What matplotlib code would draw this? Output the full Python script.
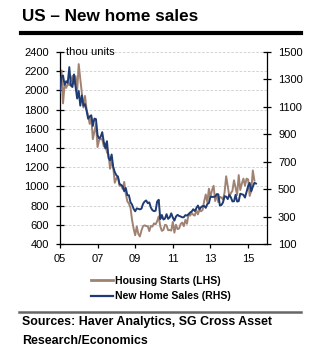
import numpy as np
import matplotlib
matplotlib.use("Agg")
import matplotlib.pyplot as plt
from matplotlib.lines import Line2D

plt.rcParams['font.family'] = ['Liberation Sans', 'DejaVu Sans']

# monthly data from Jan 2005, thousands (SAAR)
housing_starts = [
    2144, 2207, 1864, 2061, 2025, 2068, 2054, 2095, 2151, 2065, 2147, 1994,
    2273, 2119, 1969, 1821, 1942, 1802, 1737, 1650, 1720, 1491, 1570, 1649,
    1409, 1480, 1495, 1490, 1415, 1448, 1354, 1330, 1183, 1264, 1197, 1037,
    1084, 1103, 1005, 1013, 973, 1046, 923, 844, 820, 777, 652, 560,
    490, 582, 505, 478, 540, 585, 594, 586, 585, 534, 588, 581,
    614, 604, 636, 687, 583, 536, 546, 599, 594, 543, 545, 539,
    630, 517, 600, 554, 561, 608, 623, 585, 650, 610, 711, 694,
    723, 704, 695, 753, 708, 757, 740, 754, 847, 915, 833, 976,
    888, 962, 1005, 847, 919, 835, 891, 883, 863, 936, 1105, 1003,
    897, 928, 954, 1063, 985, 909, 1117, 962, 1028, 1080, 1007, 1080,
    1072, 900, 954, 1165, 1060,
]
new_home_sales = [
    1203, 1319, 1328, 1260, 1286, 1274, 1389, 1255, 1244, 1336, 1246, 1160,
    1215, 1108, 1183, 1107, 1119, 1072, 1013, 1029, 1038, 960, 1014, 1010,
    893, 869, 881, 915, 842, 796, 849, 728, 709, 752, 660, 623,
    601, 590, 538, 530, 521, 484, 508, 455, 455, 404, 387, 356,
    338, 359, 356, 352, 357, 392, 409, 417, 397, 403, 365, 346,
    339, 342, 409, 422, 281, 311, 278, 285, 317, 283, 293, 323,
    292, 270, 300, 312, 304, 300, 294, 295, 310, 307, 316, 329,
    336, 353, 340, 361, 380, 352, 368, 376, 377, 363, 391, 398,
    445, 443, 443, 446, 462, 462, 380, 384, 403, 448, 445, 427,
    457, 440, 410, 411, 458, 409, 412, 466, 462, 458, 438, 479,
    521, 545, 484, 517, 546, 540,
]
x_ticks = [2005, 2007, 2009, 2011, 2013, 2015]
x_labels = ["05", "07", "09", "11", "13", "15"]

hs_x = 2005 + np.arange(len(housing_starts)) / 12
nhs_x = 2005 + np.arange(len(new_home_sales)) / 12

brown = "#A08272"
navy = "#1F3B74"

fig = plt.figure(figsize=(3.22, 3.63), dpi=100)
fig.text(0.068, 0.955, "US \u2013 New home sales", fontsize=12.3, fontweight="bold", va="center")
fig.add_artist(Line2D([0.065, 0.935], [0.909, 0.909], color="black", lw=3))

ax = fig.add_axes([0.186, 0.328, 0.643, 0.529])
ax.plot(hs_x, housing_starts, color=brown, lw=1.4)
ax.set_ylim(400, 2400)
ax.set_xlim(2005, 2016)
ax.set_yticks(range(400, 2401, 200))
ax.set_xticks(x_ticks)
ax.set_xticklabels(x_labels)
ax.yaxis.grid(True, color="#cccccc", ls=(0, (3, 2)), lw=0.6)
ax.set_axisbelow(True)
ax.text(2005.3, 2400, "thou units", fontsize=8, va="center")

ax2 = ax.twinx()
ax2.plot(nhs_x, new_home_sales, color=navy, lw=1.4)
ax2.set_ylim(100, 1500)
ax2.set_yticks(range(100, 1501, 200))

for a in (ax, ax2):
    a.spines["top"].set_visible(False)
    for s in a.spines.values():
        s.set_linewidth(0.9)
    a.tick_params(labelsize=8, direction="inout", length=6, width=0.9, pad=5)
ax2.spines["left"].set_visible(False)
ax2.spines["bottom"].set_visible(False)
ax.spines["right"].set_visible(False)
ax.tick_params(axis="x", direction="out", length=3, pad=4)

handles = [Line2D([], [], color=brown, lw=2), Line2D([], [], color=navy, lw=1.6)]
fig.legend(handles, ["Housing Starts (LHS)", "New Home Sales (RHS)"],
           loc="center", bbox_to_anchor=(0.5, 0.205), frameon=False,
           prop={"size": 7.6, "weight": "bold"}, handlelength=2.1,
           handletextpad=0.2, labelspacing=0.55)

fig.add_artist(Line2D([0.059, 0.935], [0.141, 0.141], color="#666666", lw=1.8))
fig.text(0.068, 0.086, "Sources: Haver Analytics, SG Cross Asset\nResearch/Economics",
         fontsize=8.9, fontweight="bold", va="center", linespacing=1.75)

fig.savefig("out.png", dpi=100)
